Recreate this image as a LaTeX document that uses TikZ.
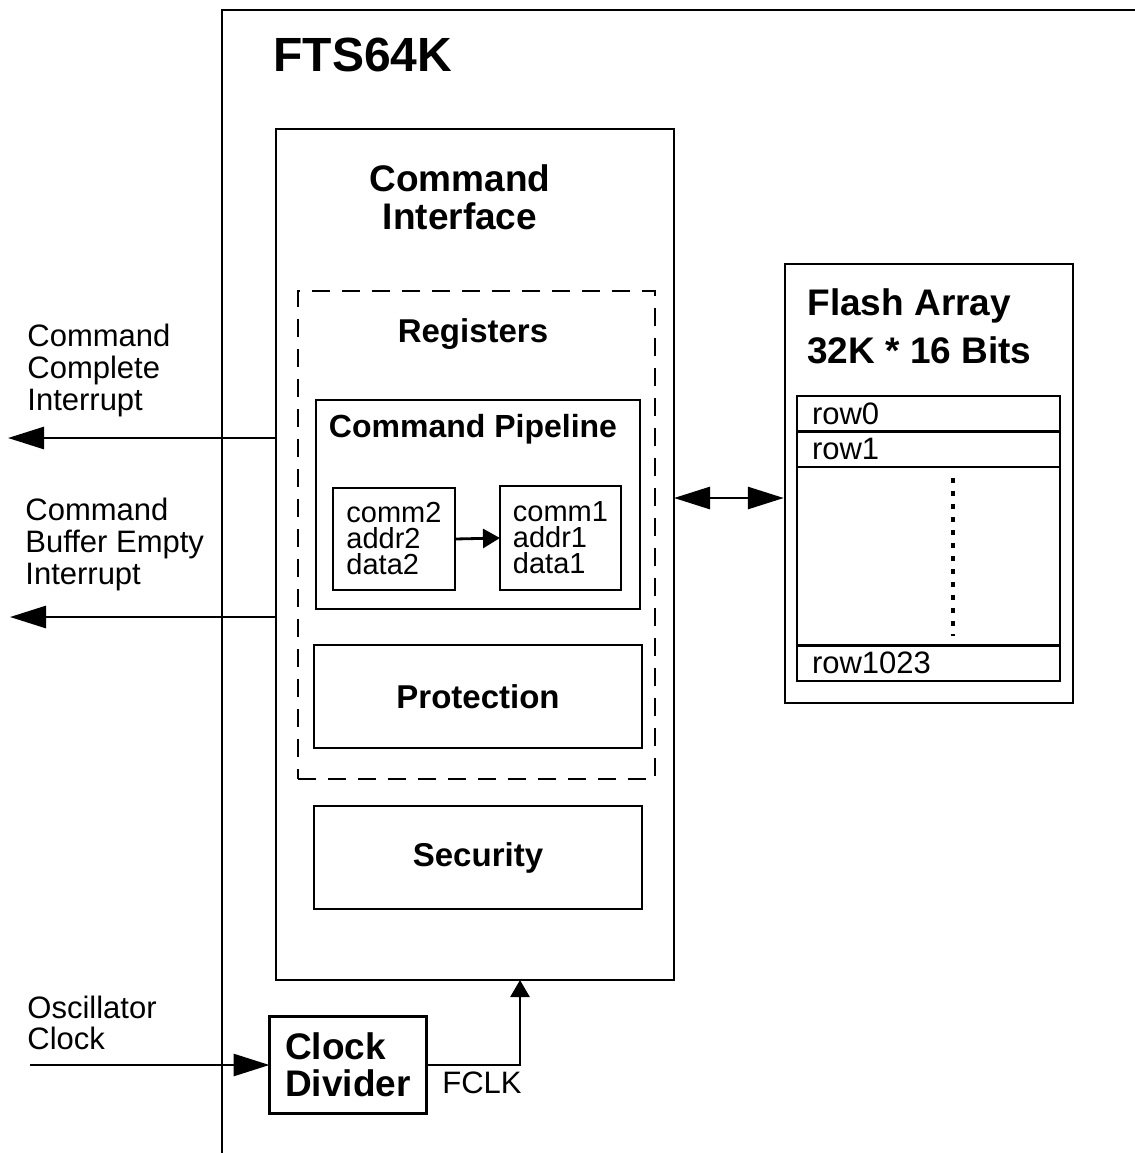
\documentclass[tikz,border=0pt]{standalone}
\usepackage{fontspec}
\setmainfont{Liberation Sans}
\usetikzlibrary{positioning}
\usetikzlibrary{arrows.meta}

\tikzset{
  blk/.style={draw, line width=1.4pt, inner sep=0pt, outer sep=0pt},
  bigttl/.style={font=\bfseries\fontsize{18.5}{19}\selectfont, inner sep=0pt},
  ttl/.style={font=\bfseries\fontsize{16.5}{18}\selectfont, inner sep=0pt},
  lbl/.style={font=\fontsize{15.5}{16}\selectfont, align=left, inner sep=0pt},
  rowbox/.style={draw, line width=1.2pt, outer sep=0pt, inner xsep=7.5pt, inner ysep=0pt,
    minimum height=17.75pt, text width=116.5pt, align=left, font=\fontsize{15.5}{16}\selectfont},
  bigtip/.style={line width=1.4pt, -{Triangle[length=18pt,width=11pt]}},
  midtip/.style={line width=1.4pt, -{Triangle[length=8.5pt,width=9.5pt]}},
}

\begin{document}
\begin{tikzpicture}[x=0.5pt, y=-0.5pt]
  \useasboundingbox (0,0) rectangle (1135,1153);

  \draw[line width=1.4pt] (222,1153) -- (222,10) -- (1140,10);
  \node[anchor=west, font=\bfseries\fontsize{24}{26}\selectfont, inner sep=0pt] (fts) at (273,55) {FTS64K};

  \node[blk, minimum width=199pt, minimum height=425.5pt] (ci) at (475,554.5) {};
  \node[bigttl, align=center] (cititle) at (460,197) {Command\\Interface};

  \node[draw, line width=1.3pt, dash pattern=on 9pt off 6pt, minimum width=178.5pt, minimum height=244pt] (reg) at (476.5,535) {};
  \node[ttl] (regtitle) at (473,334) {Registers};

  \node[blk, minimum width=162pt, minimum height=104.5pt] (pipe) at (478,504.5) {};
  \node[ttl, font=\bfseries\fontsize{16}{18}\selectfont] (pipetitle) at (473,429) {Command Pipeline};
  \node[blk, minimum width=61pt, minimum height=51pt, align=left, font=\fontsize{14.5}{13}\selectfont] (stg2) at (394,539) {comm2\\addr2\\data2};
  \node[blk, minimum width=60.5pt, minimum height=52pt, align=left, font=\fontsize{14.5}{13}\selectfont] (stg1) at (560.5,538) {comm1\\addr1\\data1};
  \draw[midtip] (stg2.east) -- (stg1.west);

  \node[blk, minimum width=164pt, minimum height=51.5pt, ttl] (prot) at (478,696.5) {Protection};
  \node[blk, minimum width=164pt, minimum height=51.5pt, ttl] (sec) at (478,857.5) {Security};

  \node[draw, line width=1.2pt, minimum width=144pt, minimum height=219.5pt] (flash) at (929,483.5) {};
  \node[anchor=west, align=left, font=\bfseries\fontsize{18.5}{24}\selectfont, inner sep=0pt] (flashtitle) at (807,326) {Flash Array\\32K * 16 Bits};
  \node[rowbox, anchor=north] (row0) at (928.5,396) {row0};
  \node[rowbox, below=0pt of row0] (row1) {row1};
  \node[rowbox, anchor=south] (rowlast) at (928.5,681) {row1023};
  \draw[line width=1.2pt] (row0.north west) rectangle (rowlast.south east);
  \draw[line width=1.6pt, dash pattern=on 2.5pt off 4pt] (953,478) -- (953,636);

  \coordinate (bus) at (730,498);
  \draw[line width=1.4pt, {Triangle[length=18pt,width=11pt]}-{Triangle[length=18pt,width=11pt]}] (ci.east |- bus) -- (flash.west |- bus);

  \node[lbl, anchor=west] (cclbl) at (27,370) {Command\\Complete\\Interrupt};
  \coordinate (ccend) at (8,438);
  \draw[bigtip] (ci.west |- ccend) -- (ccend);
  \node[lbl, anchor=west] (cbelbl) at (25,544) {Command\\Buffer Empty\\Interrupt};
  \coordinate (cbeend) at (10,617);
  \draw[bigtip] (ci.west |- cbeend) -- (cbeend);

  \node[blk, minimum width=78.5pt, minimum height=48.5pt, align=left, font=\bfseries\fontsize{18.5}{18.5}\selectfont] (clk) at (348,1065) {Clock\\Divider};
  \node[lbl, anchor=west, font=\fontsize{15.5}{15.5}\selectfont] (osclbl) at (27,1023) {Oscillator\\Clock};
  \coordinate (osc) at (30,1065);
  \draw[bigtip] (osc) -- (clk.west);
  \draw[midtip] (clk.east) -| ([xshift=22.5pt]ci.south);
  \node[lbl, anchor=west] (fclk) at (442,1083) {FCLK};
\end{tikzpicture}
\end{document}
